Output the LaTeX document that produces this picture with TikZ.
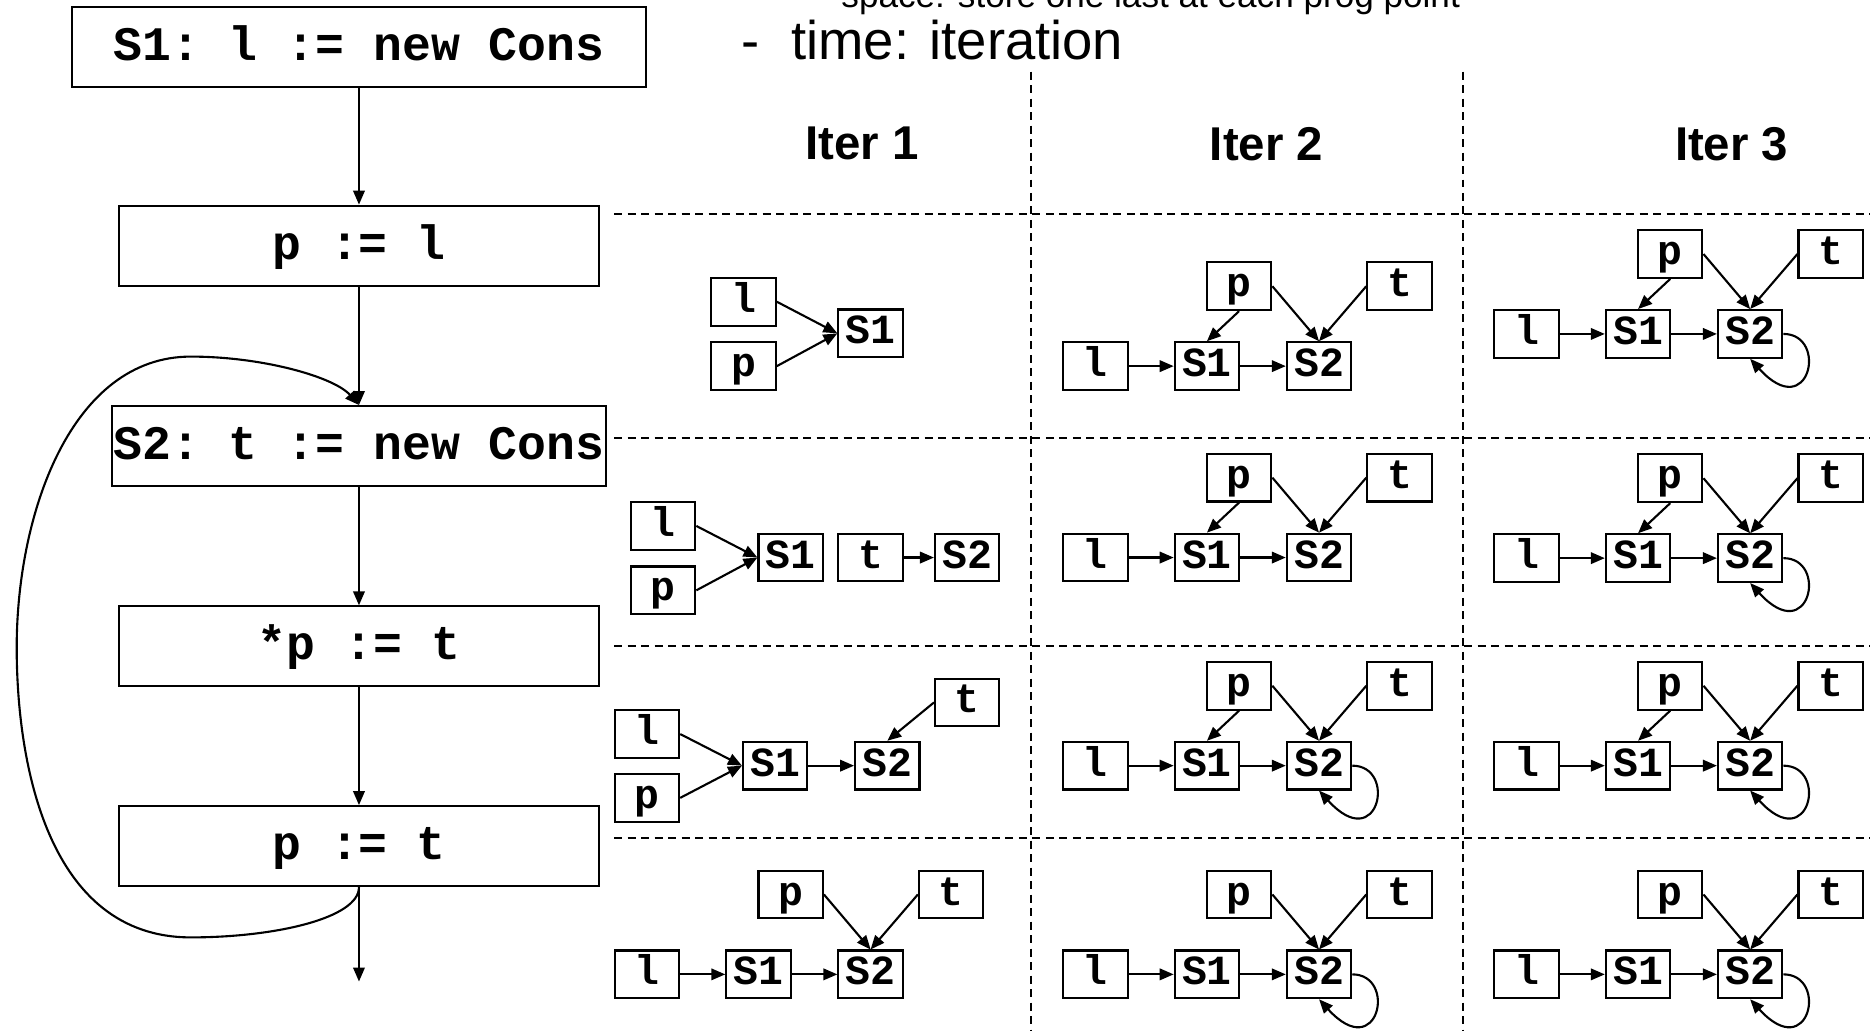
\documentclass[tikz,border=0pt]{standalone}
\usepackage{fontspec}
\setmainfont{Liberation Sans}
\setmonofont{Liberation Mono}
\usetikzlibrary{arrows.meta}

\begin{document}
\begin{tikzpicture}[x=0.011926cm, y=-0.011926cm,
    stmt/.style={draw, line width=0.6pt, inner sep=0pt, minimum height=0.8cm,
        text height=0.8em, text depth=0.04em,
        font=\ttfamily\bfseries\fontsize{13.7}{16}\selectfont},
    var/.style={draw, line width=0.6pt, inner sep=0pt, minimum width=0.644cm,
        minimum height=0.477cm, text height=0.7em, text depth=0.1em,
        font=\ttfamily\bfseries\fontsize{11.8}{13}\selectfont},
    arr/.style={-{Triangle[length=1.4mm,width=1.15mm]}, line width=0.6pt},
    sepline/.style={line width=0.5pt, dash pattern=on 0.8mm off 0.55mm},
    itertitle/.style={font=\bfseries\fontsize{13.5}{16}\selectfont}]

% page frame
\useasboundingbox (0,0) rectangle (1568,864);

% bullet text, the first line runs off the top
\node[anchor=base west, inner sep=0pt, font=\fontsize{10}{12}\selectfont] (spacetxt) at (705,6) {space: store one last at each prog point};
\node[anchor=base west, inner sep=0pt, font=\fontsize{15.5}{18}\selectfont] (dashmark) at (621,50) {-};
\node[anchor=base west, inner sep=0pt, font=\fontsize{15.5}{18}\selectfont] (timetxt) at (663,50) {time: iteration};

% the program
\node[stmt, minimum width=5.748cm] (s1stmt) at (301,39.5) {S1: l := new Cons};
\node[stmt, minimum width=4.794cm] (plstmt) at (301,206) {p := l};
\node[stmt, minimum width=4.949cm] (s2stmt) at (301,374) {S2: t := new Cons};
\node[stmt, minimum width=4.794cm] (starstmt) at (301,542) {*p := t};
\node[stmt, minimum width=4.794cm] (ptstmt) at (301,709.5) {p := t};
\coordinate (exit) at (301,823);

\draw[arr] (s1stmt) -- (plstmt);
\draw[arr] (plstmt) -- (s2stmt);
\draw[arr] (s2stmt) -- (starstmt);
\draw[arr] (starstmt) -- (ptstmt);
\draw[arr] (ptstmt) -- (exit);

% back edge of the loop
\draw[arr] (ptstmt.south) .. controls (301,770) and (230,786) .. (160,786)
    .. controls (40,786) and (14,640) .. (14,543)
    .. controls (14,430) and (60,299) .. (160,299)
    .. controls (220,299) and (280,316) .. (s2stmt.north);

% table of the heap graphs
\foreach \y in {179.5,367,541.7,702.5}
    \draw[sepline] (515,\y) -- (1568,\y);
\foreach \x in {864.5,1226.5}
    \draw[sepline] (\x,60) -- (\x,864);

\node[itertitle] (iter1) at (723,120.5) {Iter 1};
\node[itertitle] (iter2) at (1062,120.5) {Iter 2};
\node[itertitle] (iter3) at (1452,120.5) {Iter 3};

% Iter 1, rows 1 to 3
\node[var] (r1c1-l) at (623.5,253) {l};
\node[var] (r1c1-p) at (623.5,307) {p};
\node[var] (r1c1-s1) at (730,279.5) {S1};
\draw[arr] (r1c1-l.east) -- (r1c1-s1.west);
\draw[arr] (r1c1-p.east) -- (r1c1-s1.west);

\node[var] (r2c1-l) at (556,441) {l};
\node[var] (r2c1-p) at (556,495) {p};
\node[var] (r2c1-s1) at (663,467.5) {S1};
\node[var] (r2c1-t) at (730,467.5) {t};
\node[var] (r2c1-s2) at (811,467.5) {S2};
\draw[arr] (r2c1-l.east) -- (r2c1-s1.west);
\draw[arr] (r2c1-p.east) -- (r2c1-s1.west);
\draw[arr] (r2c1-t) -- (r2c1-s2);

\node[var] (r3c1-l) at (542.5,615.5) {l};
\node[var] (r3c1-p) at (542.5,669) {p};
\node[var] (r3c1-s1) at (650,642) {S1};
\node[var] (r3c1-s2) at (744,642) {S2};
\node[var] (r3c1-t) at (811,589) {t};
\draw[arr] (r3c1-l.east) -- (r3c1-s1.west);
\draw[arr] (r3c1-p.east) -- (r3c1-s1.west);
\draw[arr] (r3c1-s1) -- (r3c1-s2);
\draw[arr] (r3c1-t.west) -- (r3c1-s2.north);

% the other cells share one layout
\foreach \g/\lx/\ly in {r1c2/918.5/307, r1c3/1280/280, r2c2/918.5/467.5,
    r2c3/1280/468, r3c2/918.5/642, r3c3/1280/642,
    r4c1/542.5/817, r4c2/918.5/817, r4c3/1280/817} {
  \node[var] (\g-l)  at (\lx,\ly)          {l};
  \node[var] (\g-s1) at (\lx+93.5,\ly)     {S1};
  \node[var] (\g-s2) at (\lx+187.5,\ly)    {S2};
  \node[var] (\g-p)  at (\lx+120.5,\ly-67) {p};
  \node[var] (\g-t)  at (\lx+255,\ly-67)   {t};
  \draw[arr] (\g-l) -- (\g-s1);
  \draw[arr] (\g-s1) -- (\g-s2);
  \draw[arr] (\g-p.east) -- (\g-s2.north);
  \draw[arr] (\g-t.west) -- (\g-s2.north);
}

% p still points at S1
\foreach \g in {r1c2,r1c3,r2c2,r2c3,r3c2,r3c3}
  \draw[arr] (\g-p.south) -- (\g-s1.north);

% S2 points at itself
\foreach \g in {r1c3,r2c3,r3c2,r3c3,r4c2,r4c3}
  \draw[arr] (\g-s2.east) .. controls +(38,0) and +(50,55) .. (\g-s2.south);

\end{tikzpicture}
\end{document}
